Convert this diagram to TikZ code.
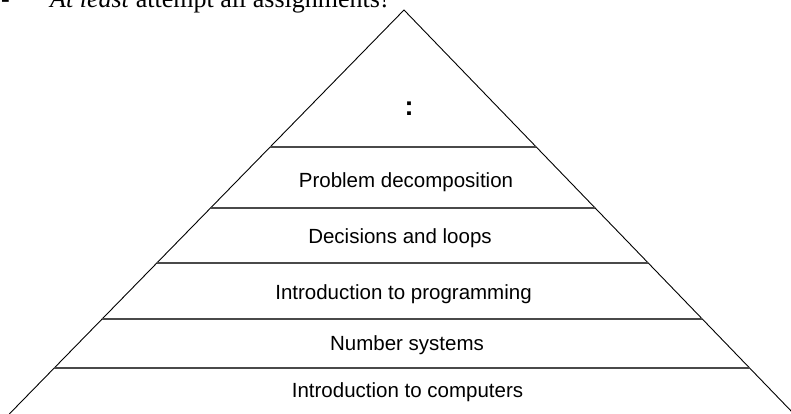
\documentclass[tikz,border=0pt]{standalone}
\usepackage{fontspec}
\setmainfont{Liberation Serif}
\newfontfamily\arialfont{Liberation Sans}
\definecolor{lvlgray}{HTML}{4A4A4A}
\tikzset{
  side/.style={draw=black, line width=0.9pt},
  level/.style={draw=lvlgray, line width=1.4pt},
  lbl/.style={font=\arialfont\fontsize{20.5}{24}\selectfont, anchor=base, inner sep=0pt},
  toptxt/.style={font=\fontsize{26}{30}\selectfont, anchor=base west, inner sep=0pt}
}
\begin{document}
\begin{tikzpicture}[x=1pt, y=-1pt]
\useasboundingbox (0,0) rectangle (791,414);
% pyramid sides
\coordinate (apex) at (404,10);
\coordinate (bl) at (9.3,414);
\coordinate (br) at (794,414);
\draw[side] (bl) -- (apex) -- (br);
% level separators
\draw[level] (270.2,147) -- (536,147);
\draw[level] (210.6,208) -- (595,208);
\draw[level] (156.8,263) -- (648,263);
\draw[level] (102,319) -- (702,319);
\draw[level] (54.2,368) -- (750,368);
% labels
\node[lbl, font=\arialfont\bfseries\fontsize{27}{30}\selectfont] (dots) at (409,116) {:};
\node[lbl] (pd) at (406,187) {Problem decomposition};
\node[lbl] (dl) at (400,243) {Decisions and loops};
\node[lbl] (ip) at (403.5,299) {Introduction to programming};
\node[lbl] (ns) at (407,350) {Number systems};
\node[lbl] (ic) at (407.5,397) {Introduction to computers};
% top text (cut off)
\node[toptxt] (dash) at (1,8) {-};
\node[toptxt] (note) at (50,8) {\textit{At least} attempt all assignments!};
\end{tikzpicture}
\end{document}
